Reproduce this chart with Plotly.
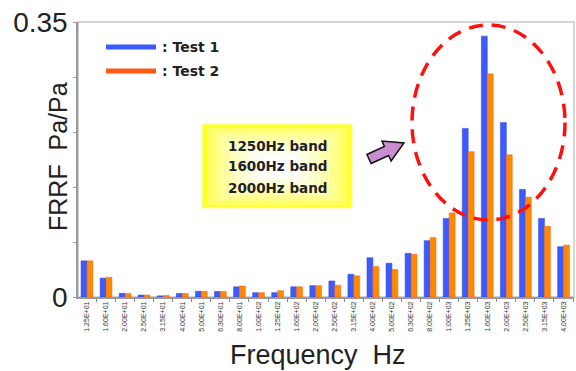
import plotly.graph_objects as go

# ---------------- data ----------------
categories = ["1.25E+01", "1.60E+01", "2.00E+01", "2.50E+01", "3.15E+01", "4.00E+01",
              "5.00E+01", "6.30E+01", "8.00E+01", "1.00E+02", "1.25E+02", "1.60E+02",
              "2.00E+02", "2.50E+02", "3.15E+02", "4.00E+02", "5.00E+02", "6.30E+02",
              "8.00E+02", "1.00E+03", "1.25E+03", "1.60E+03", "2.00E+03", "2.50E+03",
              "3.15E+03", "4.00E+03"]
test1 = [0.046, 0.024, 0.0047, 0.0025, 0.0015, 0.0045, 0.0073, 0.007, 0.013, 0.0055,
         0.0055, 0.013, 0.0145, 0.0204, 0.029, 0.050, 0.043, 0.0556, 0.0717, 0.100,
         0.2146, 0.332, 0.222, 0.137, 0.100, 0.064]
test2 = [0.046, 0.025, 0.0045, 0.0025, 0.002, 0.0045, 0.0073, 0.007, 0.014, 0.0055,
         0.008, 0.013, 0.0145, 0.015, 0.027, 0.039, 0.035, 0.0544, 0.0756, 0.107,
         0.185, 0.284, 0.181, 0.127, 0.090, 0.066]
series_names = [": Test 1", ": Test 2"]
y_tickvals = [0, 0.07, 0.14, 0.21, 0.28, 0.35]
y_ticktext = ["0", "", "", "", "", "0.35"]
band_lines = ["1250Hz band", "1600Hz band", "2000Hz band"]

BLUE = "#3c5aff"
ORANGE = "#ff8a00"
ORANGE_LINE = "#ff5a14"

W, H = 576, 371
L, R, T, B = 78, 2, 22, 74
PW, PH = W - L - R, H - T - B


def px(x):
    return (x - L) / PW


def py(y):
    return (H - B - y) / PH


fig = go.Figure()
fig.add_trace(go.Bar(x=categories, y=test1, name=series_names[0],
                     marker=dict(color=BLUE, line=dict(color="#2a40e0", width=0.5))))
fig.add_trace(go.Bar(x=categories, y=test2, name=series_names[1],
                     marker=dict(color=ORANGE, line=dict(color=ORANGE_LINE, width=0.5))))

shapes = []
# plot frame (top / right light gray)
shapes.append(dict(type="rect", xref="paper", yref="paper", x0=0, x1=1, y0=0, y1=1,
                   line=dict(color="#c8c8c8", width=1.5), layer="below"))

# legend lines
for i, c in enumerate([BLUE, ORANGE_LINE]):
    yy = 47 + 24 * i
    shapes.append(dict(type="line", xref="paper", yref="paper",
                       x0=px(106), x1=px(156), y0=py(yy), y1=py(yy),
                       line=dict(color=c, width=5)))

# yellow gradient box (nested rects, yellow edges -> white centre)
bx0, bx1, by0, by1 = 202, 352, 124, 208
steps = 14
for k in range(steps):
    t = k / (steps - 1)
    inset_x = t * 72
    inset_y = t * 40
    b_val = int(50 + 205 * min(1.0, (t ** 0.6) * 1.15))
    col = f"rgb(255,255,{b_val})"
    shapes.append(dict(type="rect", xref="paper", yref="paper",
                       x0=px(bx0 + inset_x), x1=px(bx1 - inset_x),
                       y0=py(by1 - inset_y), y1=py(by0 + inset_y),
                       fillcolor=col,
                       line=dict(color="#ffffa0" if k == 0 else col, width=1 if k == 0 else 0)))

# purple block arrow
tail = (369.0, 159.0)
tip = (404.0, 143.0)
dx, dy = tip[0] - tail[0], tip[1] - tail[1]
ln = (dx ** 2 + dy ** 2) ** 0.5
ux, uy = dx / ln, dy / ln
vx, vy = -uy, ux


def pt(a, b):
    X = tail[0] + a * ux + b * vx
    Y = tail[1] + a * uy + b * vy
    return f"{px(X):.5f},{py(Y):.5f}"


sh = ln * 0.5
pts = [pt(0, 5), pt(sh, 5), pt(sh, 11), pt(ln, 0), pt(sh, -11), pt(sh, -5), pt(0, -5)]
path = "M " + " L ".join(pts) + " Z"
shapes.append(dict(type="path", xref="paper", yref="paper", path=path,
                   fillcolor="#c88ed0", line=dict(color="#111111", width=1.5)))

# dashed red ellipse
shapes.append(dict(type="circle", xref="paper", yref="paper",
                   x0=px(412), x1=px(565), y0=py(220), y1=py(25),
                   line=dict(color="#ff1010", width=3.5, dash="14px,9px")))

annotations = []
# legend text
for i, name in enumerate(series_names):
    annotations.append(dict(xref="paper", yref="paper", x=px(160), y=py(47 + 24 * i),
                            text=name, showarrow=False, xanchor="left", yanchor="middle",
                            font=dict(family="DejaVu Sans", size=14, color="#222222",
                                      weight="bold")))
# band text
for i, line in enumerate(band_lines):
    annotations.append(dict(xref="paper", yref="paper", x=px(277), y=py(145.5 + 21 * i),
                            text=line, showarrow=False, xanchor="center", yanchor="middle",
                            font=dict(family="DejaVu Sans", size=13.5, color="#222222",
                                      weight="bold")))
# axis titles
annotations.append(dict(xref="paper", yref="paper", x=px(318), y=py(355),
                        text="Frequency  Hz", showarrow=False, xanchor="center",
                        yanchor="middle",
                        font=dict(family="Liberation Sans", size=27, color="#222222")))
annotations.append(dict(xref="paper", yref="paper", x=px(58), y=py(157),
                        text="FRRF  Pa/Pa", showarrow=False, textangle=-90,
                        xanchor="center", yanchor="middle",
                        font=dict(family="Liberation Sans", size=25, color="#222222")))

fig.update_layout(
    width=W, height=H,
    margin=dict(l=L, r=R, t=T, b=B, pad=0),
    paper_bgcolor="white", plot_bgcolor="white",
    barmode="group", bargap=0.38, bargroupgap=0,
    showlegend=False,
    shapes=shapes, annotations=annotations,
    xaxis=dict(type="category", range=[-0.47, 25.55], tickangle=-90,
               tickfont=dict(family="Liberation Sans", size=7, color="#333333"),
               showline=True, linecolor="#999999", linewidth=1.5,
               ticks="outside", tickson="boundaries", ticklen=3, tickcolor="#888888",
               showgrid=False, automargin=False, fixedrange=True),
    yaxis=dict(range=[0, 0.35], tickvals=y_tickvals, ticktext=y_ticktext,
               tickfont=dict(family="Liberation Sans", size=28, color="#222222"),
               showline=True, linecolor="#999999", linewidth=1.5,
               ticks="outside", ticklen=3, tickcolor="#999999",
               showgrid=False, zeroline=False, automargin=False, fixedrange=True),
)

fig.write_html("out.html")
